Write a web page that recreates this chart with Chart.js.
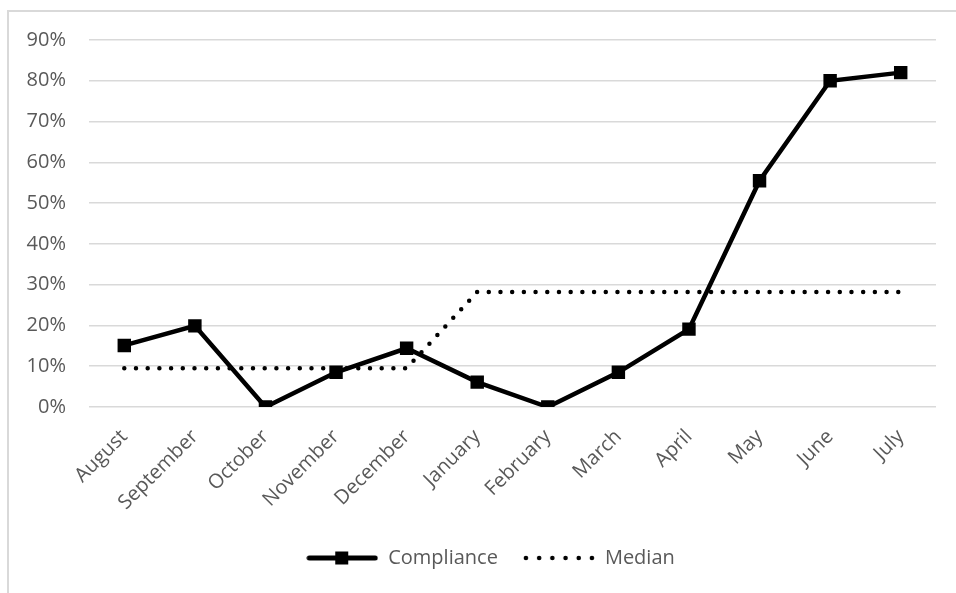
<!DOCTYPE html>
<html>
<head>
<meta charset="utf-8">
<script src="https://cdn.jsdelivr.net/npm/chart.js@4"></script>
<style>
  html, body { margin: 0; padding: 0; background: #fff; }
  #wrap { position: relative; width: 956px; height: 593px; overflow: hidden; }
  #frame { position: absolute; left: 7px; top: 10px; width: 1000px; height: 700px;
           border-top: 2px solid #d9d9d9; border-left: 2px solid #d9d9d9; }
  #chart { position: absolute; left: 0; top: 0; }
</style>
</head>
<body>
<div id="wrap">
  <div id="frame"></div>
  <canvas id="chart" width="956" height="593"></canvas>
</div>
<script>
// datos (porcentajes)
const months = ['August', 'September', 'October', 'November', 'December', 'January',
                'February', 'March', 'April', 'May', 'June', 'July'];
const compliance = [15.1, 19.9, 0, 8.5, 14.4, 6.1, 0, 8.5, 19.1, 55.5, 80.0, 82.0];
const median = [9.5, 9.5, 9.5, 9.5, 9.5, 28.2, 28.2, 28.2, 28.2, 28.2, 28.2, 28.2];
const yTicks = [0, 10, 20, 30, 40, 50, 60, 70, 80, 90];

const TEXT = '#595959';
const GRID = '#d9d9d9';
const FONT = "'Open Sans', sans-serif";

// iconos de leyenda: linea con cuadrado / linea punteada
function complianceIcon() {
    const c = document.createElement('canvas');
    c.width = 72; c.height = 20;
    const ctx = c.getContext('2d');
    ctx.strokeStyle = '#000';
    ctx.lineWidth = 5;
    ctx.lineCap = 'round';
    ctx.beginPath();
    ctx.moveTo(3, 10);
    ctx.lineTo(69, 10);
    ctx.stroke();
    ctx.fillStyle = '#000';
    ctx.fillRect(29, 3.5, 13, 13);
    return c;
}

function medianIcon() {
    const c = document.createElement('canvas');
    c.width = 72; c.height = 20;
    const ctx = c.getContext('2d');
    ctx.fillStyle = '#000';
    for (let i = 0; i < 6; i++) {
        ctx.beginPath();
        ctx.arc(3 + i * 13.2, 10, 2.3, 0, Math.PI * 2);
        ctx.fill();
    }
    return c;
}

const icons = [complianceIcon(), medianIcon()];

new Chart(document.getElementById('chart'), {
    type: 'line',
    data: {
        labels: months,
        datasets: [
            {
                label: 'Compliance',
                data: compliance,
                borderColor: '#000',
                backgroundColor: '#000',
                borderWidth: 4.5,
                tension: 0,
                pointStyle: 'rect',
                pointRadius: 9.5,
                pointBorderWidth: 0,
                pointBackgroundColor: '#000'
            },
            {
                label: 'Median',
                data: median,
                borderColor: '#000',
                borderWidth: 4.5,
                borderDash: [0, 11.7],
                borderCapStyle: 'round',
                tension: 0,
                pointRadius: 0
            }
        ]
    },
    options: {
        responsive: false,
        animation: false,
        layout: { padding: { left: 25, right: 0, top: 40, bottom: 15 } },
        plugins: {
            tooltip: { enabled: false },
            legend: {
                position: 'bottom',
                labels: {
                    usePointStyle: true,
                    pointStyleWidth: 72,
                    padding: 25,
                    color: TEXT,
                    font: { family: FONT, size: 20 },
                    generateLabels: chart => chart.data.datasets.map((ds, i) => ({
                        text: ds.label,
                        pointStyle: icons[i],
                        fontColor: TEXT,
                        datasetIndex: i,
                        hidden: false,
                        lineWidth: 0
                    }))
                }
            }
        },
        scales: {
            x: {
                offset: true,
                grid: { display: false, drawTicks: false },
                border: { display: false },
                ticks: {
                    color: TEXT,
                    font: { family: FONT, size: 20 },
                    minRotation: 45,
                    maxRotation: 45,
                    padding: 18
                },
                afterFit: s => { s.height = 116; }
            },
            y: {
                min: 0,
                max: 90,
                afterBuildTicks: s => { s.ticks = yTicks.map(v => ({ value: v })); },
                grid: { color: GRID, lineWidth: 1.5, drawTicks: false },
                border: { display: false },
                ticks: {
                    color: TEXT,
                    font: { family: FONT, size: 20 },
                    padding: 23,
                    callback: v => v + '%'
                },
                afterFit: s => { s.width = 64; }
            },
            y2: {
                position: 'right',
                display: true,
                grid: { display: false, drawTicks: false },
                border: { display: false },
                ticks: { display: false },
                afterFit: s => { s.width = 20; }
            }
        }
    }
});
</script>
</body>
</html>
